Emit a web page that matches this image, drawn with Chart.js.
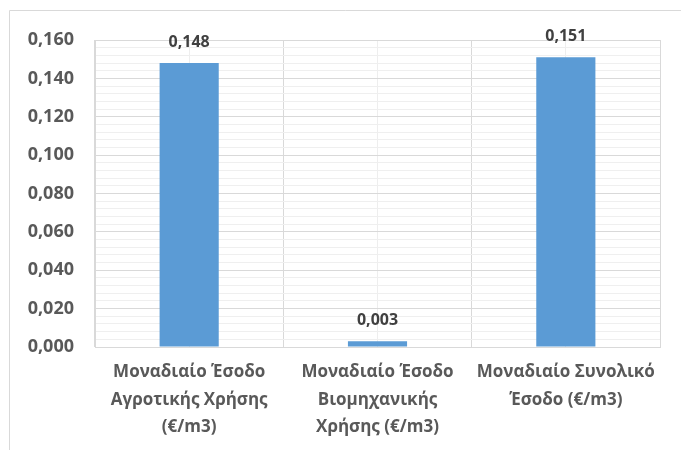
<!DOCTYPE html>
<html>
<head>
<meta charset="utf-8">
<script src="https://cdn.jsdelivr.net/npm/chart.js@4/dist/chart.umd.min.js"></script>
<style>
  html, body { margin: 0; padding: 0; background: #ffffff; }
  #wrap { position: relative; width: 681px; height: 450px; }
</style>
</head>
<body>
<div id="wrap"><canvas id="c" width="681" height="450"></canvas></div>
<script>
const categories = [
  ["Μοναδιαίο Έσοδο", "Αγροτικής Χρήσης", "(€/m3)"],
  ["Μοναδιαίο Έσοδο", "Βιομηχανικής", "Χρήσης (€/m3)"],
  ["Μοναδιαίο Συνολικό", "Έσοδο (€/m3)"]
];
const values = [0.148, 0.003, 0.151];
const yMin = 0;
const yMax = 0.16;
const yMajorStep = 0.02;
const yMinorStep = 0.004;

const FONT = "'Open Sans', Lato, sans-serif";
const fmt = v => v.toFixed(3).replace('.', ',');

const framePlugin = {
  id: 'frame',
  beforeDraw(chart) {
    const ctx = chart.ctx;
    ctx.save();
    ctx.strokeStyle = '#d9d9d9';
    ctx.lineWidth = 1;
    ctx.beginPath();
    ctx.moveTo(9.5, 450);
    ctx.lineTo(9.5, 10.5);
    ctx.lineTo(681, 10.5);
    ctx.stroke();
    ctx.restore();
  }
};

const labelPlugin = {
  id: 'valueLabels',
  afterDatasetsDraw(chart) {
    const ctx = chart.ctx;
    const meta = chart.getDatasetMeta(0);
    ctx.save();
    ctx.font = "bold 16px " + FONT;
    ctx.fillStyle = '#404040';
    ctx.textAlign = 'center';
    ctx.textBaseline = 'alphabetic';
    meta.data.forEach((bar, i) => {
      ctx.fillText(fmt(values[i]), bar.x, bar.y - 16);
    });
    ctx.restore();
  }
};

new Chart(document.getElementById('c'), {
  type: 'bar',
  data: {
    labels: categories,
    datasets: [{
      data: values,
      backgroundColor: '#5B9BD5',
      borderWidth: 0,
      barPercentage: 0.314,
      categoryPercentage: 1.0,
      xAxisID: 'x',
      yAxisID: 'y'
    }]
  },
  options: {
    responsive: false,
    animation: false,
    devicePixelRatio: 1,
    layout: { padding: { top: 40, right: 21, left: 0, bottom: 0 } },
    plugins: { legend: { display: false }, tooltip: { enabled: false } },
    scales: {
      x: {
        type: 'category',
        position: 'bottom',
        offset: true,
        grid: { offset: true, color: '#d9d9d9', drawTicks: false, lineWidth: 1 },
        border: { display: true, color: '#d9d9d9' },
        ticks: {
          color: '#595959',
          font: { family: FONT, size: 17, weight: 'bold', lineHeight: 1.6 },
          padding: 12,
          maxRotation: 0,
          autoSkip: false
        },
        afterFit(scale) { scale.height = 103; }
      },
      xMinor: {
        type: 'category',
        position: 'bottom',
        offset: true,
        grid: { offset: false, color: '#eeeeee', drawTicks: false, lineWidth: 1 },
        border: { display: false },
        ticks: { display: false },
        afterFit(scale) { scale.height = 0; }
      },
      y: {
        type: 'linear',
        min: yMin,
        max: yMax,
        grid: {
          drawTicks: false,
          color: ctx => {
            const v = Math.round(ctx.tick.value * 1000);
            return (v % Math.round(yMajorStep * 1000) === 0) ? '#d9d9d9' : '#efefef';
          }
        },
        border: { display: true, color: '#d9d9d9' },
        ticks: {
          stepSize: yMinorStep,
          autoSkip: false,
          color: '#595959',
          font: { family: FONT, size: 18, weight: 'bold' },
          padding: 21,
          callback: v => {
            const m = Math.round(v * 1000);
            return (m % Math.round(yMajorStep * 1000) === 0) ? fmt(v) : '';
          }
        },
        afterFit(scale) { scale.width = 95; }
      }
    }
  },
  plugins: [framePlugin, labelPlugin]
});
</script>
</body>
</html>
